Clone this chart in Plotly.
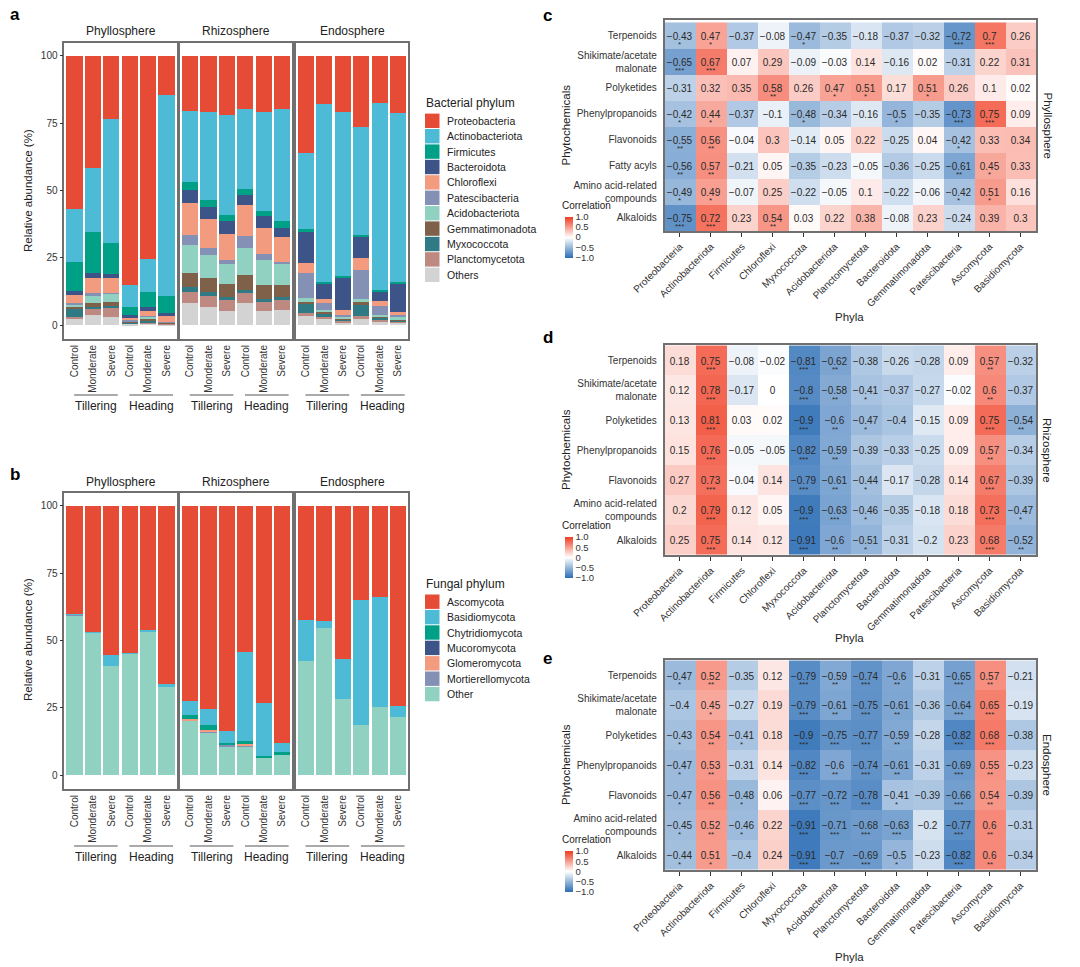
import plotly.graph_objects as go

W, H = 1080, 967
FONT = "Liberation Sans, Arial, sans-serif"
TXT = "#333333"
BOX = "#707070"

# ---------------- data ----------------
compartments = ["Phyllosphere", "Rhizosphere", "Endosphere"]
stages = ["Tillering", "Heading"]
treatments = ["Control", "Monderate", "Severe"]

bacterial_phyla = ["Proteobacteria", "Actinobacteriota", "Firmicutes", "Bacteroidota", "Chloroflexi",
                   "Patescibacteria", "Acidobacteriota", "Gemmatimonadota", "Myxococcota",
                   "Planctomycetota", "Others"]
bacterial_colors = ["#E64B35", "#4DBBD5", "#00A087", "#3C5488", "#F39B7F", "#8491B4", "#91D1C2",
                    "#7E6148", "#2F7A85", "#BE8980", "#D3D3D3"]

# relative abundance (%); rows = bars (Tillering C/M/S, Heading C/M/S), columns follow bacterial_phyla
bact_phyllosphere = [
    [56.9, 19.8, 10.5, 1.5, 3.0, 0.5, 1.0, 1.0, 2.7, 1.0, 2.1],
    [41.7, 23.6, 15.5, 1.6, 5.8, 0.6, 3.1, 1.3, 1.0, 2.1, 3.7],
    [23.5, 46.0, 11.7, 1.3, 5.5, 0.3, 3.0, 1.5, 0.8, 3.3, 3.1],
    [85.0, 8.3, 2.9, 1.2, 0.9, 0.1, 0.3, 0.2, 0.3, 0.2, 0.6],
    [75.5, 12.1, 5.8, 1.3, 2.0, 0.2, 0.8, 0.6, 0.6, 0.3, 0.8],
    [14.7, 74.5, 6.5, 1.0, 2.1, 0.1, 0.2, 0.2, 0.2, 0.2, 0.3],
]
bact_rhizosphere = [
    [20.5, 26.5, 2.7, 4.8, 12.0, 3.8, 10.2, 5.5, 1.7, 4.0, 8.3],
    [20.8, 32.7, 2.5, 4.5, 11.0, 2.5, 8.5, 5.2, 1.5, 4.0, 6.8],
    [22.0, 37.0, 2.3, 4.9, 9.8, 1.3, 7.4, 4.8, 1.3, 3.9, 5.3],
    [19.7, 29.8, 2.2, 3.7, 11.6, 4.3, 10.2, 5.5, 1.2, 3.5, 8.3],
    [20.8, 36.7, 2.0, 4.5, 9.5, 2.5, 9.0, 5.5, 1.0, 3.2, 5.3],
    [19.7, 41.6, 2.7, 3.3, 9.2, 0.7, 7.8, 4.5, 1.3, 3.6, 5.6],
]
bact_endosphere = [
    [36.2, 28.2, 0.9, 11.8, 3.5, 9.5, 1.2, 0.9, 3.5, 0.6, 3.7],
    [18.0, 66.0, 0.6, 5.8, 1.6, 2.3, 0.9, 0.8, 1.0, 0.8, 2.2],
    [21.0, 60.8, 0.6, 12.0, 1.9, 0.6, 0.4, 0.5, 0.8, 0.4, 1.0],
    [26.3, 40.2, 0.8, 7.8, 4.5, 10.7, 1.3, 0.8, 4.3, 0.6, 2.7],
    [17.5, 69.5, 0.5, 3.7, 1.9, 3.1, 0.5, 0.5, 1.0, 0.4, 1.4],
    [21.2, 62.8, 0.5, 10.5, 1.4, 0.8, 0.5, 0.4, 0.4, 0.3, 1.2],
]

fungal_phyla = ["Ascomycota", "Basidiomycota", "Chytridiomycota", "Mucoromycota", "Glomeromycota",
                "Mortierellomycota", "Other"]
fungal_colors = ["#E64B35", "#4DBBD5", "#00A087", "#3C5488", "#F39B7F", "#8491B4", "#91D1C2"]

fung_phyllosphere = [
    [40.0, 0.4, 0.0, 0.0, 0.0, 0.1, 59.5],
    [47.0, 0.1, 0.0, 0.0, 0.0, 0.0, 52.9],
    [55.5, 4.0, 0.0, 0.0, 0.0, 0.0, 40.5],
    [54.5, 0.2, 0.0, 0.0, 0.0, 0.0, 45.3],
    [46.2, 0.4, 0.0, 0.0, 0.0, 0.0, 53.4],
    [66.3, 1.0, 0.0, 0.0, 0.0, 0.0, 32.7],
]
fung_rhizosphere = [
    [72.5, 5.3, 1.5, 0.0, 0.2, 0.3, 20.2],
    [75.5, 6.0, 1.9, 0.0, 0.2, 0.4, 16.0],
    [83.6, 4.6, 0.8, 0.0, 0.0, 0.2, 10.8],
    [54.4, 32.8, 1.3, 0.0, 0.4, 0.3, 10.8],
    [73.3, 19.5, 0.5, 0.0, 0.0, 0.2, 6.5],
    [88.1, 3.4, 0.7, 0.0, 0.0, 0.1, 7.7],
]
fung_endosphere = [
    [42.5, 15.0, 0.0, 0.0, 0.0, 0.0, 42.5],
    [42.8, 2.7, 0.0, 0.0, 0.0, 0.0, 54.5],
    [56.8, 14.9, 0.0, 0.0, 0.0, 0.0, 28.3],
    [34.8, 46.5, 0.0, 0.0, 0.0, 0.0, 18.7],
    [33.8, 41.0, 0.0, 0.0, 0.0, 0.0, 25.2],
    [74.5, 4.0, 0.0, 0.0, 0.0, 0.0, 21.5],
]

abundance_ticks = [0, 25, 50, 75, 100]

heat_phyla = ["Proteobacteria", "Actinobacteriota", "Firmicutes", "Chloroflexi", "Myxococcota",
              "Acidobacteriota", "Planctomycetota", "Bacteroidota", "Gemmatimonadota",
              "Patescibacteria", "Ascomycota", "Basidiomycota"]
rows_c = ["Terpenoids", "Shikimate/acetate<br>malonate", "Polyketides", "Phenylpropanoids",
          "Flavonoids", "Fatty acyls", "Amino acid-related<br>compounds", "Alkaloids"]
rows_de = ["Terpenoids", "Shikimate/acetate<br>malonate", "Polyketides", "Phenylpropanoids",
           "Flavonoids", "Amino acid-related<br>compounds", "Alkaloids"]

corr_phyllosphere = [
    [-0.43, 0.47, -0.37, -0.08, -0.47, -0.35, -0.18, -0.37, -0.32, -0.72, 0.7, 0.26],
    [-0.65, 0.67, 0.07, 0.29, -0.09, -0.03, 0.14, -0.16, 0.02, -0.31, 0.22, 0.31],
    [-0.31, 0.32, 0.35, 0.58, 0.26, 0.47, 0.51, 0.17, 0.51, 0.26, 0.1, 0.02],
    [-0.42, 0.44, -0.37, -0.1, -0.48, -0.34, -0.16, -0.5, -0.35, -0.73, 0.75, 0.09],
    [-0.55, 0.56, -0.04, 0.3, -0.14, 0.05, 0.22, -0.25, 0.04, -0.42, 0.33, 0.34],
    [-0.56, 0.57, -0.21, 0.05, -0.35, -0.23, -0.05, -0.36, -0.25, -0.61, 0.45, 0.33],
    [-0.49, 0.49, -0.07, 0.25, -0.22, -0.05, 0.1, -0.22, -0.06, -0.42, 0.51, 0.16],
    [-0.75, 0.72, 0.23, 0.54, 0.03, 0.22, 0.38, -0.08, 0.23, -0.24, 0.39, 0.3],
]
sig_phyllosphere = [
    [1, 1, 0, 0, 1, 0, 0, 0, 0, 3, 3, 0],
    [3, 3, 0, 0, 0, 0, 0, 0, 0, 0, 0, 0],
    [0, 0, 0, 2, 0, 1, 1, 0, 1, 0, 0, 0],
    [1, 1, 0, 0, 1, 0, 0, 1, 0, 3, 3, 0],
    [2, 2, 0, 0, 0, 0, 0, 0, 0, 1, 0, 0],
    [2, 2, 0, 0, 0, 0, 0, 0, 0, 2, 1, 0],
    [1, 1, 0, 0, 0, 0, 0, 0, 0, 1, 1, 0],
    [3, 3, 0, 2, 0, 0, 0, 0, 0, 0, 0, 0],
]
corr_rhizosphere = [
    [0.18, 0.75, -0.08, -0.02, -0.81, -0.62, -0.38, -0.26, -0.28, 0.09, 0.57, -0.32],
    [0.12, 0.78, -0.17, 0, -0.8, -0.58, -0.41, -0.37, -0.27, -0.02, 0.6, -0.37],
    [0.13, 0.81, 0.03, 0.02, -0.9, -0.6, -0.47, -0.4, -0.15, 0.09, 0.75, -0.54],
    [0.15, 0.76, -0.05, -0.05, -0.82, -0.59, -0.39, -0.33, -0.25, 0.09, 0.57, -0.34],
    [0.27, 0.73, -0.04, 0.14, -0.79, -0.61, -0.44, -0.17, -0.28, 0.14, 0.67, -0.39],
    [0.2, 0.79, 0.12, 0.05, -0.9, -0.63, -0.46, -0.35, -0.18, 0.18, 0.73, -0.47],
    [0.25, 0.75, 0.14, 0.12, -0.91, -0.6, -0.51, -0.31, -0.2, 0.23, 0.68, -0.52],
]
sig_rhizosphere = [
    [0, 3, 0, 0, 3, 2, 0, 0, 0, 0, 2, 0],
    [0, 3, 0, 0, 3, 2, 1, 0, 0, 0, 2, 0],
    [0, 3, 0, 0, 3, 2, 1, 0, 0, 0, 3, 2],
    [0, 3, 0, 0, 3, 2, 0, 0, 0, 0, 2, 0],
    [0, 3, 0, 0, 3, 2, 1, 0, 0, 0, 3, 0],
    [0, 3, 0, 0, 3, 3, 1, 0, 0, 0, 3, 1],
    [0, 3, 0, 0, 3, 2, 1, 0, 0, 0, 3, 2],
]
corr_endosphere = [
    [-0.47, 0.52, -0.35, 0.12, -0.79, -0.59, -0.74, -0.6, -0.31, -0.65, 0.57, -0.21],
    [-0.4, 0.45, -0.27, 0.19, -0.79, -0.61, -0.75, -0.61, -0.36, -0.64, 0.65, -0.19],
    [-0.43, 0.54, -0.41, 0.18, -0.9, -0.75, -0.77, -0.59, -0.28, -0.82, 0.68, -0.38],
    [-0.47, 0.53, -0.31, 0.14, -0.82, -0.6, -0.74, -0.61, -0.31, -0.69, 0.55, -0.23],
    [-0.47, 0.56, -0.48, 0.06, -0.77, -0.72, -0.78, -0.41, -0.39, -0.66, 0.54, -0.39],
    [-0.45, 0.52, -0.46, 0.22, -0.91, -0.71, -0.68, -0.63, -0.2, -0.77, 0.6, -0.31],
    [-0.44, 0.51, -0.4, 0.24, -0.91, -0.7, -0.69, -0.5, -0.23, -0.82, 0.6, -0.34],
]
sig_endosphere = [
    [1, 2, 0, 0, 3, 2, 3, 2, 0, 3, 2, 0],
    [0, 1, 0, 0, 3, 2, 3, 2, 0, 3, 3, 0],
    [1, 2, 1, 0, 3, 3, 3, 2, 0, 3, 3, 0],
    [1, 2, 0, 0, 3, 2, 3, 2, 0, 3, 2, 0],
    [1, 2, 1, 0, 3, 3, 3, 1, 0, 3, 2, 0],
    [1, 2, 1, 0, 3, 3, 3, 3, 0, 3, 2, 0],
    [1, 1, 0, 0, 3, 3, 3, 1, 0, 3, 2, 0],
]
colorbar_ticks = [1.0, 0.5, 0, -0.5, -1.0]
colorbar_ticktext = ["1.0", "0.5", "0", "\u22120.5", "\u22121.0"]

# ---------------- helpers ----------------
def fx(px):
    return px / W


def fy(py):
    return 1 - py / H


def fmt(v):
    s = f"{v:g}"
    return s.replace("-", "\u2212")


annotations = []
shapes = []
layout_axes = {}


def ann(text, x, y, xref="paper", yref="paper", xanchor="center", yanchor="middle",
        size=11.5, color="#222", **kw):
    annotations.append(dict(text=text, x=x, y=y, xref=xref, yref=yref, xanchor=xanchor,
                            yanchor=yanchor, showarrow=False,
                            font=dict(size=size, color=color, family=FONT), **kw))


fig = go.Figure()

facet_px = [(64.3, 176.7), (180.0, 292.3), (295.7, 408.3)]
bar_positions = list(range(len(stages) * len(treatments)))
bar_ticktext = treatments * len(stages)


def bar_panel(first_axis, data_sets, phyla, colors, box_top, box_bottom, title_y,
              group_line_y, group_label_y):
    for k, (comp, rows) in enumerate(zip(compartments, data_sets)):
        n = first_axis + k
        xa, ya = f"x{n}", f"y{n}"
        for j in range(len(phyla) - 1, -1, -1):
            fig.add_trace(go.Bar(
                x=bar_positions, y=[r[j] for r in rows], name=phyla[j],
                marker=dict(color=colors[j], line=dict(width=0)),
                width=0.88, xaxis=xa, yaxis=ya, showlegend=False, hoverinfo="skip",
            ))
        x0, x1 = facet_px[k]
        layout_axes[f"xaxis{n}"] = dict(
            domain=[fx(x0), fx(x1)], range=[-0.55, 5.55], anchor=ya, automargin=False,
            tickmode="array", tickvals=bar_positions, ticktext=bar_ticktext, tickangle=-90,
            tickfont=dict(size=10, color=TXT), ticks="", showgrid=False, zeroline=False,
            showline=True, mirror=True, linecolor=BOX, linewidth=1.5,
        )
        layout_axes[f"yaxis{n}"] = dict(
            domain=[fy(box_bottom), fy(box_top)], range=[-5.3, 104.9], anchor=xa,
            automargin=False,
            tickmode="array", tickvals=abundance_ticks, showticklabels=(k == 0),
            ticks="outside" if k == 0 else "", ticklen=3, tickcolor=TXT,
            tickfont=dict(size=10, color=TXT), showgrid=False, zeroline=False,
            showline=True, mirror=True, linecolor=BOX, linewidth=1.5,
        )
        ann(comp, fx((x0 + x1) / 2), fy(title_y), size=12)
        for s, stage in enumerate(stages):
            start = s * len(treatments)
            shapes.append(dict(type="line", xref=xa, yref="paper",
                               x0=start - 0.02, x1=start + 2.35,
                               y0=fy(group_line_y), y1=fy(group_line_y),
                               line=dict(color="#555", width=1)))
            ann(stage, start + 1.17, fy(group_label_y), xref=xa, size=12)


bar_panel(1, [bact_phyllosphere, bact_rhizosphere, bact_endosphere], bacterial_phyla,
          bacterial_colors, 42.7, 339.3, 31, 395, 406)
bar_panel(4, [fung_phyllosphere, fung_rhizosphere, fung_endosphere], fungal_phyla,
          fungal_colors, 492.7, 789.3, 481.5, 846, 857)

for ycen in (191, 640):
    ann("Relative abundance (%)", fx(28), fy(ycen), textangle=-90, size=11.5)


def custom_legend(title, names, colors, title_y, first_y, step=15.4):
    ann(title, fx(424), fy(title_y), xanchor="left", size=12)
    for i, (nm, col) in enumerate(zip(names, colors)):
        yc = first_y + i * step
        shapes.append(dict(type="rect", xref="paper", yref="paper", x0=fx(425), x1=fx(439.5),
                           y0=fy(yc - 7.2), y1=fy(yc + 7.2), fillcolor=col,
                           line=dict(width=0)))
        ann(nm, fx(445), fy(yc), xanchor="left", size=10.5)


custom_legend("Bacterial phylum", bacterial_phyla, bacterial_colors, 103, 120.8)
custom_legend("Fungal phylum", fungal_phyla, fungal_colors, 584, 601.7)

# ---------------- heatmaps ----------------
colorscale = [[0.0, "#2B6DB5"], [0.5, "#FFFFFF"], [1.0, "#F03B20"]]
heat_specs = [
    (7, corr_phyllosphere, sig_phyllosphere, rows_c, 20, 231, "Phyllosphere", 237, 205.5, 317),
    (8, corr_rhizosphere, sig_rhizosphere, rows_de, 345, 555, "Rhizosphere", 557.5, 525.5, 638),
    (9, corr_endosphere, sig_endosphere, rows_de, 660, 870, "Endosphere", 871.5, 839.5, 957),
]
hx0, hx1 = 664.5, 1036
for n, z, sig, rows, top, bottom, name, cb_y, cb_title_y, phyla_y in heat_specs:
    xa, ya = f"x{n}", f"y{n}"
    fig.add_trace(go.Heatmap(
        z=z, x=heat_phyla, y=rows, zmin=-1, zmax=1, colorscale=colorscale,
        text=[[fmt(v) for v in r] for r in z], texttemplate="%{text}",
        textfont=dict(size=10, color="#2a2a2a", family=FONT), xaxis=xa, yaxis=ya,
        xgap=0, ygap=0, hoverinfo="skip",
        colorbar=dict(x=fx(565), xanchor="left", y=fy(cb_y), yanchor="middle",
                      len=41, lenmode="pixels", thickness=8, thicknessmode="pixels",
                      xpad=0, ypad=0, outlinewidth=0, ticks="",
                      tickvals=colorbar_ticks, ticktext=colorbar_ticktext,
                      tickfont=dict(size=9.5, color=TXT, family=FONT)),
    ))
    for i, r in enumerate(rows):
        for j, ph in enumerate(heat_phyla):
            if sig[i][j]:
                ann("*" * sig[i][j], ph, r, xref=xa, yref=ya, yshift=-9, size=8,
                    color="#2a2a2a")
    layout_axes[f"xaxis{n}"] = dict(
        domain=[fx(hx0), fx(hx1)], anchor=ya, tickangle=-45, ticks="outside", ticklen=4,
        automargin=False,
        tickcolor=TXT, tickfont=dict(size=10, color=TXT), showline=True, mirror=True,
        linecolor=BOX, linewidth=1.5, showgrid=False, zeroline=False,
    )
    layout_axes[f"yaxis{n}"] = dict(
        domain=[fy(bottom), fy(top)], anchor=xa, autorange="reversed", ticks="",
        automargin=False,
        tickfont=dict(size=10, color=TXT), showline=True, mirror=True, linecolor=BOX,
        linewidth=1.5, showgrid=False, zeroline=False, ticklabelstandoff=4,
    )
    mid = (top + bottom) / 2
    ann("Phytochemicals", fx(566), fy(mid), textangle=-90)
    ann(name, fx(1047), fy(mid), textangle=90)
    ann("Phyla", fx(849), fy(phyla_y))
    ann("Correlation", fx(560), fy(cb_title_y), xanchor="left", size=10)

for lab, px, py in [("a", 8, 14), ("b", 8, 474), ("c", 541, 15), ("d", 541, 337),
                    ("e", 541, 658)]:
    ann(f"<b>{lab}</b>", fx(px), fy(py), xanchor="left", size=17, color="#000")

fig.update_layout(
    width=W, height=H, margin=dict(l=0, r=0, t=0, b=0, autoexpand=False), barmode="stack",
    paper_bgcolor="white", plot_bgcolor="white", showlegend=False,
    font=dict(family=FONT, color=TXT), annotations=annotations, shapes=shapes,
    **layout_axes,
)

fig.write_html("out.html")
